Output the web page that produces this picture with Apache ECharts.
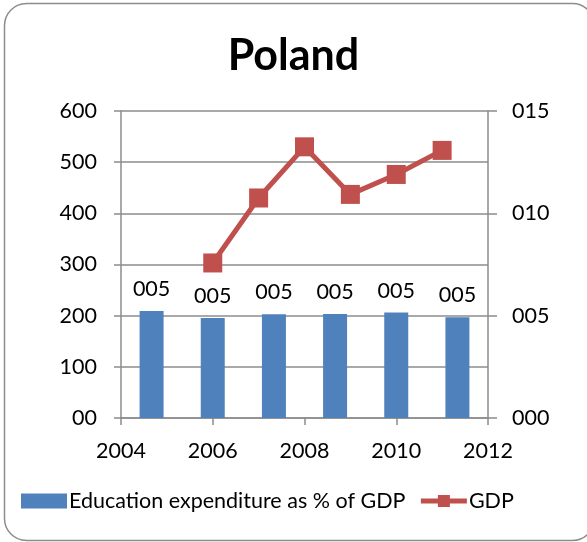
<!DOCTYPE html>
<html>
<head>
<meta charset="utf-8">
<script src="https://cdn.jsdelivr.net/npm/echarts@6/dist/echarts.min.js"></script>
<style>
  html, body { margin: 0; padding: 0; background: #fff; }
  #main { width: 587px; height: 542px; }
</style>
</head>
<body>
<div id="main"></div>
<script>
// data
var barYears = ['2005', '2006', '2007', '2008', '2009', '2010'];
var eduValues = [5.23, 4.89, 5.07, 5.08, 5.15, 4.92];
var gdpYears = [2006, 2007, 2008, 2009, 2010, 2011];
var gdpValues = [303, 430, 530, 437, 476, 523];

var pad = function (v, n) {
    var s = String(Math.round(v));
    while (s.length < n) s = '0' + s;
    return s;
};

var myChart = echarts.init(document.getElementById('main'));
var font = 'Lato, "Noto Sans", sans-serif';
var fs = 21.5;

myChart.setOption({
    textStyle: { fontFamily: font },
    animation: false,
    title: {
        text: 'Poland',
        left: 'center',
        top: 30,
        textStyle: { fontSize: 43, fontWeight: 'bold', color: '#000', fontFamily: font }
    },
    graphic: [{
        type: 'rect',
        shape: { x: 4.5, y: 3.5, width: 590, height: 537, r: 22 },
        style: { fill: 'none', stroke: '#8c8c8c', lineWidth: 1.5 },
        silent: true
    }],
    legend: {
        left: 16,
        top: 485,
        itemWidth: 46,
        itemHeight: 15,
        itemGap: 13,
        textStyle: { fontSize: fs, color: '#000', fontFamily: font, padding: [0, 0, 0, -3] },
        data: [
            { name: 'Education expenditure as % of GDP', icon: 'rect' },
            { name: 'GDP', lineStyle: { width: 5 } }
        ]
    },
    grid: { left: 121, right: 99, top: 111, bottom: 124 },
    xAxis: [{
        type: 'value',
        min: 2004,
        max: 2012,
        interval: 2,
        position: 'bottom',
        axisLine: { lineStyle: { color: '#8c8c8c', width: 1.5 } },
        axisTick: { show: true, length: 7, lineStyle: { color: '#8c8c8c', width: 1.5 } },
        axisLabel: {
            fontSize: fs, color: '#000', margin: 22, fontFamily: font,
            formatter: function (v) { return String(v); }
        },
        splitLine: { show: false }
    }, {
        type: 'category',
        data: barYears,
        show: false,
        boundaryGap: true
    }],
    yAxis: [{
        type: 'value',
        min: 0,
        max: 600,
        interval: 100,
        position: 'left',
        axisLine: { show: true, lineStyle: { color: '#8c8c8c', width: 1.5 } },
        axisTick: { show: true, length: 7, lineStyle: { color: '#8c8c8c', width: 1.5 } },
        axisLabel: {
            fontSize: fs, color: '#000', margin: 24, fontFamily: font,
            formatter: function (v) { return pad(v, 2); }
        },
        splitLine: { show: true, lineStyle: { color: '#8c8c8c', width: 1.5 } }
    }, {
        type: 'value',
        min: 0,
        max: 15,
        interval: 5,
        position: 'right',
        axisLine: { show: true, lineStyle: { color: '#8c8c8c', width: 1.5 } },
        axisTick: { show: true, length: 9, lineStyle: { color: '#8c8c8c', width: 1.5 } },
        axisLabel: {
            fontSize: fs, color: '#000', margin: 24, fontFamily: font,
            formatter: function (v) { return pad(v, 3); }
        },
        splitLine: { show: false }
    }],
    series: [{
        name: 'Education expenditure as % of GDP',
        type: 'bar',
        xAxisIndex: 1,
        yAxisIndex: 1,
        data: eduValues,
        barWidth: 24,
        itemStyle: { color: '#4f81bd' },
        label: {
            show: true,
            position: 'top',
            distance: 11,
            fontSize: fs,
            color: '#000',
            fontFamily: font,
            formatter: function (p) { return pad(p.value, 3); }
        }
    }, {
        name: 'GDP',
        type: 'line',
        xAxisIndex: 0,
        yAxisIndex: 0,
        data: gdpYears.map(function (y, i) { return [y, gdpValues[i]]; }),
        symbol: 'rect',
        symbolSize: 19,
        lineStyle: { color: '#c0504d', width: 5 },
        itemStyle: { color: '#c0504d' },
        z: 3
    }]
});
</script>
</body>
</html>
